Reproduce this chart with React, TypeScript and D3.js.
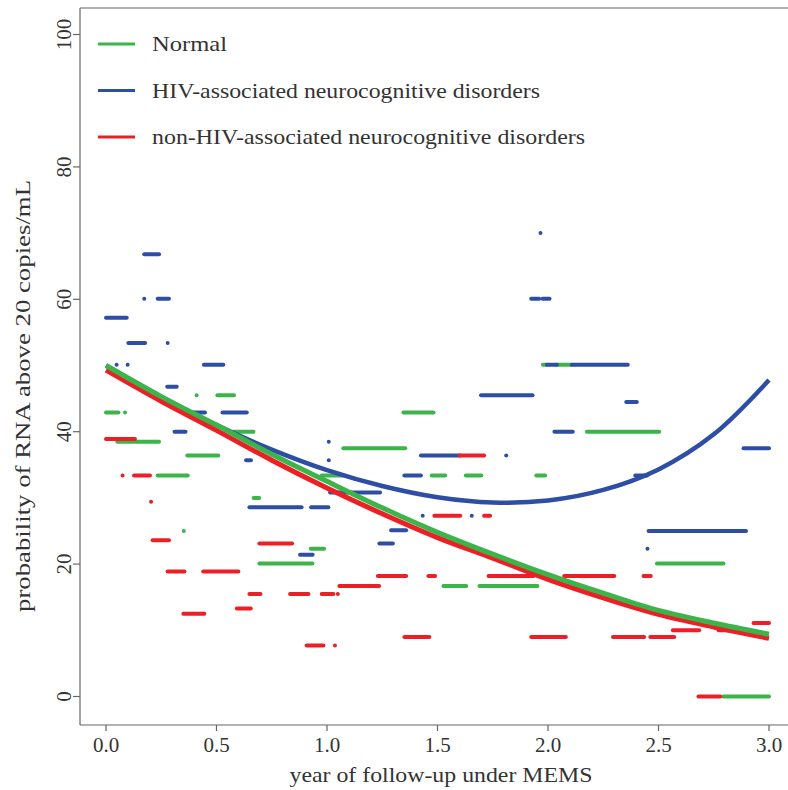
import React from 'react'
import * as d3 from 'd3'

// fitted curves
const curveYears = [0, 0.25, 0.5, 0.75, 1.0, 1.25, 1.5, 1.75, 2.0, 2.25, 2.5, 2.75, 3.0]
const normalFit = [50.0, 45.3, 41.0, 36.6, 32.5, 28.5, 24.8, 21.5, 18.4, 15.6, 13.0, 11.1, 9.4]
const handFit = [50.0, 45.3, 41.0, 37.3, 34.2, 31.8, 30.1, 29.3, 29.6, 31.2, 34.3, 39.6, 47.8]
const nonHandFit = [49.3, 44.6, 40.2, 35.7, 31.5, 27.6, 24.0, 20.9, 17.7, 14.9, 12.4, 10.5, 8.8]

// observed step segments: [from year, to year, value]
const normalSegs: [number, number, number][] = [
  [0.0, 0.056, 42.9], [0.086, 0.086, 42.9], [0.051, 0.24, 38.5], [0.234, 0.37, 33.4],
  [0.352, 0.352, 25.0], [0.368, 0.508, 36.4], [0.41, 0.41, 45.5], [0.504, 0.579, 45.5],
  [0.576, 0.667, 40.0], [0.668, 0.693, 30.0], [0.694, 0.934, 20.1], [0.927, 0.987, 22.3],
  [0.976, 1.077, 33.4], [1.074, 1.354, 37.5], [1.346, 1.482, 42.9], [1.474, 1.535, 33.4],
  [1.527, 1.63, 16.7], [1.628, 1.698, 33.4], [1.69, 1.952, 16.7], [1.947, 1.987, 33.4],
  [1.977, 1.995, 50.1], [2.04, 2.108, 50.1], [2.176, 2.503, 40.0], [2.493, 2.794, 20.1],
  [2.792, 3.0, 0],
]
const handSegs: [number, number, number][] = [
  [0.0, 0.094, 57.2], [0.048, 0.048, 50.1], [0.098, 0.098, 50.1], [0.101, 0.177, 53.4],
  [0.173, 0.24, 66.8], [0.173, 0.173, 60.1], [0.234, 0.285, 60.1], [0.279, 0.279, 53.4],
  [0.277, 0.32, 46.8], [0.31, 0.36, 40.0], [0.38, 0.448, 42.9], [0.443, 0.531, 50.1],
  [0.527, 0.637, 42.9], [0.634, 0.656, 35.7], [0.649, 0.885, 28.6], [0.878, 0.935, 21.4],
  [0.928, 1.006, 28.6], [1.008, 1.008, 38.5], [1.008, 1.008, 35.7], [1.014, 1.24, 30.8],
  [1.237, 1.298, 23.1], [1.29, 1.358, 25.1], [1.35, 1.425, 33.4], [1.425, 1.6, 36.4],
  [1.433, 1.433, 27.3], [1.655, 1.655, 27.3], [1.697, 1.93, 45.5], [1.811, 1.811, 36.4],
  [1.924, 1.96, 60.1], [1.975, 2.007, 60.1], [1.966, 1.966, 70.0], [1.995, 2.04, 50.1],
  [2.108, 2.361, 50.1], [2.029, 2.112, 40.0], [2.354, 2.402, 44.5], [2.395, 2.448, 33.4],
  [2.45, 2.45, 22.3], [2.455, 2.896, 25.0], [2.885, 3.0, 37.5],
]
const nonHandSegs: [number, number, number][] = [
  [0.0, 0.131, 38.9], [0.075, 0.075, 33.4], [0.127, 0.199, 33.4], [0.204, 0.204, 29.4],
  [0.211, 0.285, 23.6], [0.279, 0.355, 18.9], [0.35, 0.445, 12.5], [0.44, 0.599, 18.9],
  [0.592, 0.655, 13.3], [0.649, 0.699, 15.5], [0.694, 0.842, 23.1], [0.833, 0.916, 15.5],
  [0.908, 0.984, 7.7], [0.976, 1.029, 15.5], [1.049, 1.049, 15.5], [1.036, 1.036, 7.7],
  [1.056, 1.236, 16.7], [1.23, 1.358, 18.2], [1.35, 1.463, 9.0], [1.459, 1.489, 18.2],
  [1.486, 1.603, 27.3], [1.6, 1.711, 36.4], [1.711, 1.738, 27.3], [1.731, 1.934, 18.2],
  [1.924, 2.081, 9.0], [2.073, 2.3, 18.2], [2.294, 2.435, 9.0], [2.432, 2.465, 18.2],
  [2.463, 2.571, 9.0], [2.565, 2.684, 10.0], [2.681, 2.779, 0], [2.772, 2.858, 10.0],
  [2.93, 3.0, 11.1],
]

const xTicks = [0, 0.5, 1.0, 1.5, 2.0, 2.5, 3.0]
const yTicks = [0, 20, 40, 60, 80, 100]
const legendLabels = ['Normal', 'HIV-associated neurocognitive disorders', 'non-HIV-associated neurocognitive disorders']

const GREEN = '#3bb449'
const BLUE = '#2d4ea4'
const RED = '#ec1f26'
const FONT = "'Liberation Serif', 'Times New Roman', serif"

const W = 788
const H = 790
const panel = { left: 80, top: 8, bottom: 725 }

export default function App() {
  const x = d3.scaleLinear().domain([0, 3]).range([106, 769])
  const y = d3.scaleLinear().domain([0, 100]).range([696.5, 34.5])

  const line = d3.line<[number, number]>()
    .x(d => x(d[0]))
    .y(d => y(d[1]))
    .curve(d3.curveCatmullRom)

  const pts = (vals: number[]) => curveYears.map((t, i) => [t, vals[i]] as [number, number])

  const segs = (data: [number, number, number][], color: string, key: string) =>
    data.map((s, i) => (
      <line key={key + i} x1={x(s[0])} x2={x(s[1])} y1={y(s[2])} y2={y(s[2])}
        stroke={color} strokeWidth={4} strokeLinecap="round" />
    ))

  const legendColors = [GREEN, BLUE, RED]
  const legendWidths = [75, 388, 433]

  return (
    <svg width={W} height={H} style={{ position: 'absolute', left: 0, top: 0, background: '#fff' }}
      fontFamily={FONT}>
      <rect x={0} y={0} width={W} height={H} fill="#fff" />

      {/* frame */}
      <line x1={panel.left} x2={W} y1={panel.top} y2={panel.top} stroke="#666" strokeWidth={1.2} />
      <line x1={panel.left} x2={W} y1={panel.bottom} y2={panel.bottom} stroke="#666" strokeWidth={1.2} />
      <line x1={panel.left} x2={panel.left} y1={panel.top} y2={panel.bottom} stroke="#666" strokeWidth={1.2} />

      {/* y axis */}
      {yTicks.map(t => (
        <g key={'y' + t}>
          <line x1={panel.left - 7} x2={panel.left} y1={y(t)} y2={y(t)} stroke="#666" strokeWidth={1.2} />
          <text transform={`translate(${panel.left - 9},${y(t)}) rotate(-90)`} textAnchor="middle"
            fontSize={21} fill="#333">{t}</text>
        </g>
      ))}
      <text transform={`translate(30,396) rotate(-90)`} textAnchor="middle" fontSize={22} fill="#333"
        textLength={432} lengthAdjust="spacingAndGlyphs">probability of RNA above 20 copies/mL</text>

      {/* x axis */}
      {xTicks.map(t => (
        <g key={'x' + t}>
          <line x1={x(t)} x2={x(t)} y1={panel.bottom} y2={panel.bottom + 6} stroke="#666" strokeWidth={1.2} />
          <text x={x(t)} y={752} textAnchor="middle" fontSize={21} fill="#333">{t.toFixed(1)}</text>
        </g>
      ))}
      <text x={441} y={782} textAnchor="middle" fontSize={22} fill="#333"
        textLength={303} lengthAdjust="spacingAndGlyphs">year of follow-up under MEMS</text>

      {/* observed segments */}
      <g>{segs(normalSegs, GREEN, 'g')}</g>
      <g>{segs(handSegs, BLUE, 'b')}</g>
      <g>{segs(nonHandSegs, RED, 'r')}</g>

      {/* fitted curves */}
      <path d={line(pts(handFit)) || ''} fill="none" stroke={BLUE} strokeWidth={4.5} />
      <path d={line(pts(nonHandFit)) || ''} fill="none" stroke={RED} strokeWidth={5} />
      <path d={line(pts(normalFit)) || ''} fill="none" stroke={GREEN} strokeWidth={5} />

      {/* legend */}
      {legendLabels.map((lab, i) => (
        <g key={lab} transform={`translate(0,${44 + i * 46.5})`}>
          <line x1={98} x2={135} y1={0} y2={0} stroke={legendColors[i]} strokeWidth={3} />
          <text x={152} y={7} fontSize={22} fill="#333" textLength={legendWidths[i]}
            lengthAdjust="spacingAndGlyphs">{lab}</text>
        </g>
      ))}
    </svg>
  )
}
